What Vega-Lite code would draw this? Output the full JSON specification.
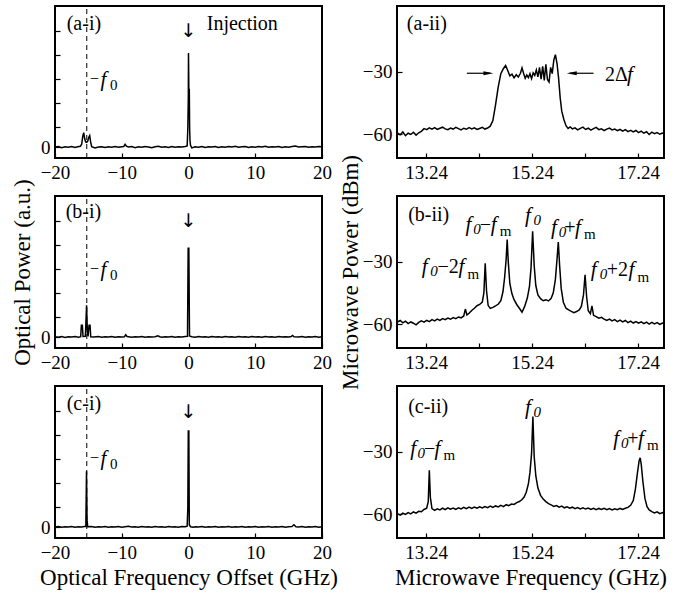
{
"$schema": "https://vega.github.io/schema/vega-lite/v6.json",
"padding": {"left": 10, "top": 4, "right": 5, "bottom": 5},
"bounds": "flush",
"columns": 2,
"spacing": {"row": 38, "column": 75},
"datasets": {
"ai": [{"x":-20,"y":0.01},{"x":-19.5,"y":0.03},{"x":-19,"y":-0.02},{"x":-18.5,"y":0.02},{"x":-18,"y":0.0},{"x":-17.5,"y":0.03},{"x":-17,"y":-0.01},{"x":-16.6,"y":0.02},{"x":-16.2,"y":0.04},{"x":-16.0,"y":0.12},{"x":-15.85,"y":0.45},{"x":-15.7,"y":0.6},{"x":-15.55,"y":0.35},{"x":-15.4,"y":0.22},{"x":-15.25,"y":0.2},{"x":-15.1,"y":0.25},{"x":-14.95,"y":0.4},{"x":-14.8,"y":0.48},{"x":-14.65,"y":0.2},{"x":-14.5,"y":0.02},{"x":-14,"y":-0.03},{"x":-13.5,"y":0.01},{"x":-13,"y":0.02},{"x":-12.5,"y":-0.01},{"x":-12,"y":0.02},{"x":-11.5,"y":0.0},{"x":-11,"y":0.03},{"x":-10.5,"y":0.0},{"x":-10,"y":0.02},{"x":-9.7,"y":0.03},{"x":-9.5,"y":0.12},{"x":-9.3,"y":0.04},{"x":-9,"y":0.01},{"x":-8.5,"y":0.03},{"x":-8,"y":-0.02},{"x":-7.5,"y":0.02},{"x":-7,"y":0.0},{"x":-6.5,"y":0.03},{"x":-6,"y":0.01},{"x":-5.5,"y":-0.02},{"x":-5,"y":0.02},{"x":-4.5,"y":0.04},{"x":-4,"y":0.0},{"x":-3.5,"y":0.02},{"x":-3,"y":-0.01},{"x":-2.5,"y":0.03},{"x":-2,"y":0.0},{"x":-1.5,"y":0.02},{"x":-1,"y":0.01},{"x":-0.5,"y":0.03},{"x":-0.2,"y":0.05},{"x":-0.1,"y":0.8},{"x":-0.03,"y":2.0},{"x":0,"y":3.92},{"x":0.05,"y":2.4},{"x":0.12,"y":2.4},{"x":0.17,"y":0.8},{"x":0.22,"y":0.3},{"x":0.3,"y":0.08},{"x":0.5,"y":-0.03},{"x":1,"y":0.02},{"x":1.5,"y":0.0},{"x":2,"y":0.03},{"x":2.5,"y":-0.01},{"x":3,"y":0.02},{"x":3.5,"y":0.01},{"x":4,"y":0.03},{"x":4.5,"y":-0.01},{"x":5,"y":0.02},{"x":5.5,"y":0.0},{"x":6,"y":0.03},{"x":6.5,"y":0.01},{"x":7,"y":0.04},{"x":7.5,"y":0.0},{"x":8,"y":0.02},{"x":8.5,"y":0.03},{"x":9,"y":-0.01},{"x":9.5,"y":0.02},{"x":10,"y":0.0},{"x":10.5,"y":0.03},{"x":11,"y":0.01},{"x":11.5,"y":0.04},{"x":12,"y":0.0},{"x":12.5,"y":0.02},{"x":13,"y":0.01},{"x":13.5,"y":0.03},{"x":14,"y":-0.01},{"x":14.5,"y":0.02},{"x":15,"y":0.0},{"x":15.5,"y":0.03},{"x":16,"y":0.05},{"x":16.5,"y":0.01},{"x":17,"y":0.02},{"x":17.5,"y":0.03},{"x":18,"y":0.0},{"x":18.5,"y":0.02},{"x":19,"y":0.01},{"x":19.5,"y":0.03},{"x":20,"y":0.02}],
"bi": [{"x":-20,"y":0.02},{"x":-19.5,"y":0.0},{"x":-19,"y":0.03},{"x":-18.5,"y":-0.01},{"x":-18,"y":0.02},{"x":-17.5,"y":0.01},{"x":-17,"y":0.03},{"x":-16.5,"y":0.0},{"x":-16.15,"y":0.02},{"x":-16.05,"y":0.5},{"x":-15.9,"y":0.5},{"x":-15.8,"y":0.03},{"x":-15.45,"y":0.04},{"x":-15.27,"y":1.33},{"x":-15.15,"y":0.2},{"x":-15.05,"y":0.03},{"x":-14.9,"y":0.5},{"x":-14.75,"y":0.5},{"x":-14.65,"y":0.02},{"x":-14.2,"y":0.01},{"x":-13.5,"y":0.03},{"x":-13,"y":0.0},{"x":-12.5,"y":0.02},{"x":-12,"y":0.01},{"x":-11.5,"y":0.03},{"x":-11,"y":0.0},{"x":-10.5,"y":0.02},{"x":-10,"y":0.01},{"x":-9.6,"y":0.02},{"x":-9.4,"y":0.1},{"x":-9.2,"y":0.03},{"x":-8.5,"y":0.0},{"x":-8,"y":0.02},{"x":-7.5,"y":0.01},{"x":-7,"y":0.03},{"x":-6.5,"y":0.0},{"x":-6,"y":0.02},{"x":-5.5,"y":0.01},{"x":-5,"y":0.02},{"x":-4.6,"y":0.06},{"x":-4.3,"y":0.02},{"x":-4,"y":0.0},{"x":-3.5,"y":0.02},{"x":-3,"y":0.01},{"x":-2.5,"y":0.03},{"x":-2,"y":0.0},{"x":-1.5,"y":0.02},{"x":-1,"y":0.01},{"x":-0.5,"y":0.03},{"x":-0.15,"y":0.04},{"x":-0.05,"y":3.7},{"x":0.05,"y":3.7},{"x":0.15,"y":0.05},{"x":0.5,"y":0.02},{"x":1,"y":0.0},{"x":1.5,"y":0.03},{"x":2,"y":0.01},{"x":2.5,"y":0.02},{"x":3,"y":0.0},{"x":3.5,"y":0.03},{"x":4,"y":0.01},{"x":4.5,"y":0.02},{"x":5,"y":0.0},{"x":5.5,"y":0.03},{"x":6,"y":0.01},{"x":6.5,"y":0.02},{"x":7,"y":0.0},{"x":7.5,"y":0.03},{"x":8,"y":0.01},{"x":8.5,"y":0.02},{"x":9,"y":0.0},{"x":9.5,"y":0.03},{"x":10,"y":0.01},{"x":10.5,"y":0.02},{"x":11,"y":0.0},{"x":11.5,"y":0.03},{"x":12,"y":0.01},{"x":12.5,"y":0.02},{"x":13,"y":0.0},{"x":13.5,"y":0.03},{"x":14,"y":0.01},{"x":14.5,"y":0.02},{"x":15,"y":0.01},{"x":15.4,"y":0.03},{"x":15.6,"y":0.07},{"x":15.8,"y":0.02},{"x":16.5,"y":0.01},{"x":17,"y":0.03},{"x":17.5,"y":0.0},{"x":18,"y":0.02},{"x":18.5,"y":0.01},{"x":19,"y":0.03},{"x":19.5,"y":0.0},{"x":20,"y":0.02}],
"ci": [{"x":-20,"y":0.01},{"x":-19.5,"y":0.03},{"x":-19,"y":0.0},{"x":-18.5,"y":0.02},{"x":-18,"y":0.01},{"x":-17.5,"y":0.03},{"x":-17,"y":0.0},{"x":-16.5,"y":0.02},{"x":-16,"y":0.01},{"x":-15.6,"y":0.03},{"x":-15.38,"y":0.03},{"x":-15.28,"y":2.33},{"x":-15.2,"y":0.3},{"x":-15.1,"y":0.02},{"x":-14.5,"y":0.03},{"x":-14,"y":0.0},{"x":-13.5,"y":0.02},{"x":-13,"y":0.01},{"x":-12.5,"y":0.03},{"x":-12,"y":0.0},{"x":-11.5,"y":0.02},{"x":-11,"y":0.01},{"x":-10.5,"y":0.03},{"x":-10,"y":0.0},{"x":-9.5,"y":0.02},{"x":-9,"y":0.04},{"x":-8.5,"y":0.01},{"x":-8,"y":0.02},{"x":-7.5,"y":0.0},{"x":-7,"y":0.03},{"x":-6.5,"y":0.01},{"x":-6,"y":0.02},{"x":-5.5,"y":0.0},{"x":-5,"y":0.03},{"x":-4.5,"y":0.01},{"x":-4,"y":0.02},{"x":-3.5,"y":0.0},{"x":-3,"y":0.03},{"x":-2.5,"y":0.01},{"x":-2,"y":0.02},{"x":-1.5,"y":0.0},{"x":-1,"y":0.03},{"x":-0.5,"y":0.02},{"x":-0.2,"y":0.04},{"x":-0.1,"y":0.8},{"x":-0.03,"y":4.0},{"x":0.05,"y":4.0},{"x":0.12,"y":0.1},{"x":0.3,"y":0.02},{"x":0.7,"y":0.0},{"x":1,"y":0.02},{"x":1.5,"y":0.01},{"x":2,"y":0.03},{"x":2.5,"y":0.0},{"x":3,"y":0.02},{"x":3.5,"y":0.01},{"x":4,"y":0.03},{"x":4.5,"y":0.0},{"x":5,"y":0.02},{"x":5.5,"y":0.01},{"x":6,"y":0.03},{"x":6.5,"y":0.0},{"x":7,"y":0.02},{"x":7.5,"y":0.01},{"x":8,"y":0.03},{"x":8.5,"y":0.0},{"x":9,"y":0.02},{"x":9.5,"y":0.01},{"x":10,"y":0.03},{"x":10.5,"y":0.0},{"x":11,"y":0.02},{"x":11.5,"y":0.01},{"x":12,"y":0.03},{"x":12.5,"y":0.0},{"x":13,"y":0.02},{"x":13.5,"y":0.01},{"x":14,"y":0.03},{"x":14.5,"y":0.0},{"x":15,"y":0.02},{"x":15.5,"y":0.03},{"x":15.8,"y":0.1},{"x":16.1,"y":0.02},{"x":16.5,"y":0.01},{"x":17,"y":0.03},{"x":17.5,"y":0.0},{"x":18,"y":0.02},{"x":18.5,"y":0.01},{"x":19,"y":0.03},{"x":19.5,"y":0.0},{"x":20,"y":0.02}],
"aii": [{"x":12.70,"y":-59.5},{"x":12.75,"y":-60.3},{"x":12.80,"y":-59.0},{"x":12.85,"y":-60.8},{"x":12.90,"y":-59.6},{"x":12.95,"y":-60.2},{"x":13.00,"y":-59.1},{"x":13.05,"y":-60.5},{"x":13.10,"y":-59.4},{"x":13.15,"y":-58.7},{"x":13.20,"y":-57.4},{"x":13.25,"y":-57.9},{"x":13.30,"y":-57.0},{"x":13.35,"y":-57.6},{"x":13.40,"y":-56.9},{"x":13.45,"y":-57.8},{"x":13.50,"y":-57.2},{"x":13.55,"y":-56.7},{"x":13.60,"y":-57.5},{"x":13.65,"y":-57.9},{"x":13.70,"y":-57.1},{"x":13.75,"y":-57.6},{"x":13.80,"y":-56.8},{"x":13.85,"y":-57.4},{"x":13.90,"y":-58.0},{"x":13.95,"y":-57.2},{"x":14.00,"y":-57.7},{"x":14.05,"y":-56.9},{"x":14.10,"y":-57.5},{"x":14.15,"y":-57.0},{"x":14.20,"y":-57.8},{"x":14.25,"y":-57.3},{"x":14.30,"y":-56.8},{"x":14.35,"y":-57.6},{"x":14.40,"y":-57.1},{"x":14.45,"y":-56.2},{"x":14.50,"y":-53.5},{"x":14.55,"y":-46.0},{"x":14.60,"y":-37.5},{"x":14.65,"y":-31.0},{"x":14.70,"y":-28.5},{"x":14.74,"y":-27.1},{"x":14.78,"y":-29.5},{"x":14.82,"y":-32.0},{"x":14.86,"y":-31.2},{"x":14.90,"y":-33.0},{"x":14.94,"y":-31.5},{"x":14.98,"y":-32.6},{"x":15.02,"y":-30.8},{"x":15.05,"y":-28.2},{"x":15.08,"y":-30.9},{"x":15.11,"y":-33.2},{"x":15.14,"y":-31.7},{"x":15.17,"y":-32.9},{"x":15.20,"y":-31.0},{"x":15.23,"y":-33.4},{"x":15.26,"y":-30.6},{"x":15.29,"y":-31.8},{"x":15.32,"y":-29.2},{"x":15.35,"y":-32.5},{"x":15.38,"y":-28.0},{"x":15.41,"y":-33.6},{"x":15.44,"y":-27.5},{"x":15.47,"y":-34.2},{"x":15.50,"y":-26.5},{"x":15.53,"y":-33.8},{"x":15.56,"y":-35.0},{"x":15.59,"y":-28.0},{"x":15.62,"y":-31.0},{"x":15.65,"y":-24.5},{"x":15.68,"y":-21.9},{"x":15.71,"y":-26.0},{"x":15.74,"y":-33.0},{"x":15.77,"y":-42.5},{"x":15.80,"y":-49.0},{"x":15.84,"y":-53.0},{"x":15.88,"y":-56.0},{"x":15.92,"y":-57.3},{"x":15.96,"y":-56.6},{"x":16.00,"y":-57.5},{"x":16.05,"y":-57.0},{"x":16.10,"y":-58.0},{"x":16.15,"y":-57.3},{"x":16.20,"y":-56.7},{"x":16.25,"y":-57.8},{"x":16.30,"y":-57.2},{"x":16.35,"y":-58.1},{"x":16.40,"y":-57.4},{"x":16.45,"y":-56.8},{"x":16.50,"y":-57.9},{"x":16.55,"y":-57.5},{"x":16.60,"y":-58.3},{"x":16.65,"y":-57.6},{"x":16.70,"y":-57.1},{"x":16.75,"y":-58.0},{"x":16.80,"y":-57.6},{"x":16.85,"y":-58.4},{"x":16.90,"y":-57.8},{"x":16.95,"y":-58.6},{"x":17.00,"y":-57.9},{"x":17.05,"y":-58.8},{"x":17.10,"y":-58.2},{"x":17.15,"y":-59.0},{"x":17.20,"y":-58.3},{"x":17.25,"y":-59.3},{"x":17.30,"y":-58.6},{"x":17.35,"y":-59.6},{"x":17.40,"y":-58.9},{"x":17.45,"y":-60.2},{"x":17.50,"y":-59.1},{"x":17.55,"y":-59.8},{"x":17.60,"y":-59.3},{"x":17.65,"y":-60.1},{"x":17.70,"y":-59.5},{"x":17.73,"y":-59.8}],
"bii": [{"x":12.70,"y":-59.0},{"x":12.75,"y":-58.3},{"x":12.80,"y":-59.4},{"x":12.85,"y":-58.6},{"x":12.90,"y":-59.8},{"x":12.95,"y":-59.0},{"x":13.00,"y":-59.6},{"x":13.05,"y":-60.4},{"x":13.10,"y":-59.2},{"x":13.15,"y":-58.5},{"x":13.20,"y":-59.1},{"x":13.25,"y":-58.2},{"x":13.30,"y":-58.8},{"x":13.35,"y":-57.9},{"x":13.40,"y":-58.5},{"x":13.45,"y":-57.6},{"x":13.50,"y":-58.2},{"x":13.55,"y":-57.4},{"x":13.60,"y":-57.9},{"x":13.65,"y":-57.1},{"x":13.70,"y":-57.7},{"x":13.75,"y":-56.9},{"x":13.80,"y":-57.4},{"x":13.85,"y":-56.6},{"x":13.90,"y":-57.0},{"x":13.95,"y":-56.1},{"x":13.98,"y":-52.8},{"x":14.01,"y":-55.6},{"x":14.05,"y":-54.8},{"x":14.10,"y":-53.5},{"x":14.15,"y":-52.4},{"x":14.20,"y":-51.2},{"x":14.25,"y":-50.6},{"x":14.30,"y":-49.5},{"x":14.33,"y":-45.0},{"x":14.355,"y":-30.8},{"x":14.38,"y":-44.0},{"x":14.41,"y":-51.0},{"x":14.45,"y":-52.5},{"x":14.50,"y":-52.0},{"x":14.55,"y":-51.3},{"x":14.60,"y":-50.5},{"x":14.65,"y":-48.8},{"x":14.69,"y":-44.5},{"x":14.72,"y":-38.0},{"x":14.75,"y":-29.0},{"x":14.77,"y":-19.4},{"x":14.79,"y":-30.0},{"x":14.82,"y":-40.5},{"x":14.86,"y":-45.5},{"x":14.90,"y":-48.3},{"x":14.95,"y":-50.6},{"x":15.00,"y":-52.4},{"x":15.05,"y":-54.3},{"x":15.10,"y":-51.5},{"x":15.15,"y":-47.5},{"x":15.19,"y":-42.0},{"x":15.22,"y":-33.0},{"x":15.25,"y":-15.4},{"x":15.28,"y":-32.0},{"x":15.31,"y":-41.5},{"x":15.35,"y":-46.0},{"x":15.40,"y":-47.8},{"x":15.45,"y":-48.8},{"x":15.50,"y":-48.3},{"x":15.55,"y":-48.9},{"x":15.60,"y":-47.6},{"x":15.64,"y":-45.0},{"x":15.68,"y":-38.5},{"x":15.71,"y":-29.0},{"x":15.735,"y":-20.6},{"x":15.76,"y":-32.0},{"x":15.79,"y":-43.0},{"x":15.83,"y":-49.5},{"x":15.88,"y":-52.4},{"x":15.93,"y":-53.2},{"x":15.98,"y":-53.9},{"x":16.03,"y":-54.5},{"x":16.08,"y":-54.0},{"x":16.13,"y":-53.2},{"x":16.17,"y":-51.5},{"x":16.21,"y":-46.0},{"x":16.24,"y":-36.3},{"x":16.27,"y":-47.0},{"x":16.30,"y":-53.6},{"x":16.34,"y":-55.0},{"x":16.37,"y":-51.3},{"x":16.40,"y":-55.8},{"x":16.45,"y":-56.4},{"x":16.50,"y":-57.2},{"x":16.55,"y":-56.8},{"x":16.60,"y":-57.6},{"x":16.65,"y":-58.3},{"x":16.70,"y":-57.6},{"x":16.75,"y":-58.5},{"x":16.80,"y":-57.9},{"x":16.85,"y":-58.8},{"x":16.90,"y":-58.1},{"x":16.95,"y":-59.0},{"x":17.00,"y":-58.3},{"x":17.05,"y":-59.3},{"x":17.10,"y":-58.6},{"x":17.15,"y":-59.5},{"x":17.20,"y":-58.8},{"x":17.25,"y":-59.6},{"x":17.30,"y":-58.9},{"x":17.35,"y":-59.8},{"x":17.40,"y":-59.1},{"x":17.45,"y":-60.0},{"x":17.50,"y":-59.2},{"x":17.55,"y":-59.9},{"x":17.60,"y":-59.3},{"x":17.65,"y":-60.2},{"x":17.70,"y":-59.5},{"x":17.73,"y":-59.8}],
"cii": [{"x":12.70,"y":-59.8},{"x":12.75,"y":-60.5},{"x":12.80,"y":-59.6},{"x":12.85,"y":-60.2},{"x":12.90,"y":-59.3},{"x":12.95,"y":-59.9},{"x":13.00,"y":-59.0},{"x":13.05,"y":-59.6},{"x":13.10,"y":-58.7},{"x":13.15,"y":-58.9},{"x":13.20,"y":-57.8},{"x":13.25,"y":-57.2},{"x":13.28,"y":-54.0},{"x":13.30,"y":-39.0},{"x":13.32,"y":-52.0},{"x":13.35,"y":-57.4},{"x":13.40,"y":-58.2},{"x":13.45,"y":-57.5},{"x":13.50,"y":-58.0},{"x":13.55,"y":-57.2},{"x":13.60,"y":-57.9},{"x":13.65,"y":-57.0},{"x":13.70,"y":-57.7},{"x":13.75,"y":-57.1},{"x":13.80,"y":-57.8},{"x":13.85,"y":-57.0},{"x":13.90,"y":-57.5},{"x":13.95,"y":-56.8},{"x":14.00,"y":-57.4},{"x":14.05,"y":-56.7},{"x":14.10,"y":-57.3},{"x":14.15,"y":-56.6},{"x":14.20,"y":-57.2},{"x":14.25,"y":-56.5},{"x":14.30,"y":-57.1},{"x":14.35,"y":-56.4},{"x":14.40,"y":-56.9},{"x":14.45,"y":-56.2},{"x":14.50,"y":-56.8},{"x":14.55,"y":-56.1},{"x":14.60,"y":-56.6},{"x":14.65,"y":-55.8},{"x":14.70,"y":-56.4},{"x":14.75,"y":-55.5},{"x":14.80,"y":-56.0},{"x":14.85,"y":-55.2},{"x":14.90,"y":-55.4},{"x":14.95,"y":-54.5},{"x":15.00,"y":-54.0},{"x":15.05,"y":-53.0},{"x":15.09,"y":-51.8},{"x":15.13,"y":-49.5},{"x":15.17,"y":-45.5},{"x":15.20,"y":-40.0},{"x":15.23,"y":-31.0},{"x":15.255,"y":-13.2},{"x":15.28,"y":-32.5},{"x":15.31,"y":-41.5},{"x":15.35,"y":-47.5},{"x":15.40,"y":-51.0},{"x":15.45,"y":-52.8},{"x":15.50,"y":-54.0},{"x":15.55,"y":-55.0},{"x":15.60,"y":-55.6},{"x":15.65,"y":-56.3},{"x":15.70,"y":-55.9},{"x":15.75,"y":-56.7},{"x":15.80,"y":-56.2},{"x":15.85,"y":-57.0},{"x":15.90,"y":-56.5},{"x":15.95,"y":-57.2},{"x":16.00,"y":-56.7},{"x":16.05,"y":-57.4},{"x":16.10,"y":-56.9},{"x":16.15,"y":-57.5},{"x":16.20,"y":-57.0},{"x":16.25,"y":-57.6},{"x":16.30,"y":-57.1},{"x":16.35,"y":-57.8},{"x":16.40,"y":-57.2},{"x":16.45,"y":-57.9},{"x":16.50,"y":-57.3},{"x":16.55,"y":-57.8},{"x":16.60,"y":-57.2},{"x":16.65,"y":-57.9},{"x":16.70,"y":-57.4},{"x":16.75,"y":-58.0},{"x":16.80,"y":-57.5},{"x":16.85,"y":-57.9},{"x":16.90,"y":-57.3},{"x":16.95,"y":-57.8},{"x":17.00,"y":-57.2},{"x":17.05,"y":-56.8},{"x":17.10,"y":-55.8},{"x":17.15,"y":-53.5},{"x":17.19,"y":-48.0},{"x":17.23,"y":-40.0},{"x":17.26,"y":-34.5},{"x":17.28,"y":-33.0},{"x":17.30,"y":-36.0},{"x":17.33,"y":-44.0},{"x":17.37,"y":-52.5},{"x":17.41,"y":-56.5},{"x":17.45,"y":-58.0},{"x":17.50,"y":-58.8},{"x":17.55,"y":-59.5},{"x":17.60,"y":-58.9},{"x":17.65,"y":-59.8},{"x":17.70,"y":-59.3},{"x":17.73,"y":-60.0}],
"dash": [{"x":-15.24,"y":-0.45,"y2":5.87}],
"tai": [{"k":"rm","x":-18.25,"y":4.86,"t":"(a-i)"},{"k":"rm","x":2.73,"y":4.86,"t":"Injection"},{"k":"arr","x":0,"y":4.83,"t":"↓"},{"k":"mn","x":-14.75,"y":2.62,"t":"−"},{"k":"it","x":-13.2,"y":2.54,"t":"f"},{"k":"sm","x":-11.76,"y":2.36,"t":"0"}],
"tbi": [{"k":"rm","x":-18.4,"y":4.95,"t":"(b-i)"},{"k":"arr","x":0,"y":4.83,"t":"↓"},{"k":"mn","x":-14.75,"y":2.62,"t":"−"},{"k":"it","x":-13.2,"y":2.54,"t":"f"},{"k":"sm","x":-11.76,"y":2.36,"t":"0"}],
"tci": [{"k":"rm","x":-18.25,"y":4.875,"t":"(c-i)"},{"k":"arr","x":0,"y":4.8,"t":"↓"},{"k":"mn","x":-14.75,"y":2.66,"t":"−"},{"k":"it","x":-13.2,"y":2.58,"t":"f"},{"k":"sm","x":-11.76,"y":2.4,"t":"0"}],
"taii": [{"k":"rm","x":12.876,"y":-10.2,"t":"(a-ii)"},{"k":"rm","x":16.617,"y":-34.5,"t":"2Δ"},{"k":"it","x":17.032,"y":-34.5,"t":"f"}],
"tbii": [{"k":"rm","x":12.9,"y":-10.5,"t":"(b-ii)"},
{"k":"it","x":13.159,"y":-35.7,"t":"f"},{"k":"si","x":13.316,"y":-37.1,"t":"0"},{"k":"rm","x":13.453,"y":-35.7,"t":"−2"},{"k":"it","x":13.85,"y":-35.7,"t":"f"},{"k":"sm","x":14.02,"y":-38.3,"t":"m"},
{"k":"it","x":13.982,"y":-15.2,"t":"f"},{"k":"si","x":14.131,"y":-16.6,"t":"0"},{"k":"rm","x":14.254,"y":-15.2,"t":"−"},{"k":"it","x":14.46,"y":-15.2,"t":"f"},{"k":"sm","x":14.63,"y":-17.8,"t":"m"},
{"k":"it","x":15.108,"y":-11.1,"t":"f"},{"k":"si","x":15.268,"y":-12.5,"t":"0"},
{"k":"it","x":15.598,"y":-16.7,"t":"f"},{"k":"si","x":15.743,"y":-18.1,"t":"0"},{"k":"rm","x":15.849,"y":-16.7,"t":"+"},{"k":"it","x":16.05,"y":-16.7,"t":"f"},{"k":"sm","x":16.22,"y":-19.3,"t":"m"},
{"k":"it","x":16.348,"y":-37.1,"t":"f"},{"k":"si","x":16.518,"y":-38.6,"t":"0"},{"k":"rm","x":16.65,"y":-37.1,"t":"+2"},{"k":"it","x":17.06,"y":-37.1,"t":"f"},{"k":"sm","x":17.23,"y":-39.7,"t":"m"}],
"tcii": [{"k":"rm","x":12.9,"y":-11.4,"t":"(c-ii)"},
{"k":"it","x":12.938,"y":-31.4,"t":"f"},{"k":"si","x":13.076,"y":-32.9,"t":"0"},{"k":"rm","x":13.202,"y":-31.4,"t":"−"},{"k":"it","x":13.40,"y":-31.4,"t":"f"},{"k":"sm","x":13.57,"y":-34.0,"t":"m"},
{"k":"it","x":15.108,"y":-11.9,"t":"f"},{"k":"si","x":15.268,"y":-13.3,"t":"0"},
{"k":"it","x":16.774,"y":-26.7,"t":"f"},{"k":"si","x":16.919,"y":-28.1,"t":"0"},{"k":"rm","x":17.038,"y":-26.7,"t":"+"},{"k":"it","x":17.24,"y":-26.7,"t":"f"},{"k":"sm","x":17.41,"y":-29.3,"t":"m"}]
},
"concat": [
{"width": 267, "height": 152,
 "encoding": {"x":{"field":"x","type":"quantitative","scale":{"domain":[-20,20],"nice":false,"zero":false},"axis":{"values":[-20,-10,0,10,20],"title":null}},"y":{"field":"y","type":"quantitative","scale":{"domain":[-0.45,5.87],"nice":false,"zero":false},"axis":{"values":[0,0.85,1.85,2.85,3.85,4.85],"labelExpr":"datum.value == 0 ? '0' : ''","title":null}}},
 "layer": [
 {"data":{"name":"dash"},"mark":{"type":"rule","strokeDash":[5,4],"strokeWidth":1,"color":"black"},"encoding":{"y2":{"field":"y2"}}},
 {"data":{"name":"ai"},"mark":{"type":"line","color":"black","strokeWidth":1.5,"clip":true}},
 {"data":{"name":"tai"},"transform":[{"filter":"datum.k == 'rm'"}],"mark":{"type":"text","align":"left","baseline":"alphabetic","fontSize":20},"encoding":{"text":{"field":"t","type":"nominal"}}},
 {"data":{"name":"tai"},"transform":[{"filter":"datum.k == 'mn'"}],"mark":{"type":"text","align":"left","baseline":"alphabetic","fontSize":16},"encoding":{"text":{"field":"t","type":"nominal"}}},
 {"data":{"name":"tai"},"transform":[{"filter":"datum.k == 'it'"}],"mark":{"type":"text","align":"left","baseline":"alphabetic","fontSize":21,"fontStyle":"italic"},"encoding":{"text":{"field":"t","type":"nominal"}}},
 {"data":{"name":"tai"},"transform":[{"filter":"datum.k == 'sm'"}],"mark":{"type":"text","align":"left","baseline":"alphabetic","fontSize":15},"encoding":{"text":{"field":"t","type":"nominal"}}},
 {"data":{"name":"tai"},"transform":[{"filter":"datum.k == 'arr'"}],"mark":{"type":"text","align":"center","baseline":"middle","fontSize":19,"font":"DejaVu Sans"},"encoding":{"text":{"field":"t","type":"nominal"}}}
]},
{"width": 267, "height": 152,
 "encoding": {"x":{"field":"x","type":"quantitative","scale":{"domain":[12.69,17.73],"nice":false,"zero":false},"axis":{"values":[13.24,14.24,15.24,16.24,17.24],"labelExpr":"(datum.value > 14 && datum.value < 14.5) || (datum.value > 16 && datum.value < 16.5) ? '' : format(datum.value, '.2f')","title":null}},"y":{"field":"y","type":"quantitative","scale":{"domain":[-71.5,1.5],"nice":false,"zero":false},"axis":{"values":[-30,-60],"title":null}}},
 "layer": [
 {"data":{"name":"aii"},"mark":{"type":"line","color":"black","strokeWidth":1.5,"clip":true}},
 {"data":{"values":[{"x":14.008,"x2":14.45,"y":-30.8},{"x":16.40,"x2":15.95,"y":-30.8}]},"mark":{"type":"rule","color":"black","strokeWidth":1.2},"encoding":{"x2":{"field":"x2"}}},
 {"data":{"values":[{"x":14.416,"y":-30.8,"d":"r"},{"x":15.989,"y":-30.8,"d":"l"}]},"mark":{"type":"point","filled":true,"color":"black","size":100,"opacity":1},"encoding":{"shape":{"field":"d","type":"nominal","scale":{"domain":["r","l"],"range":["M1,0L-1,-0.42L-1,0.42Z","M-1,0L1,-0.42L1,0.42Z"]},"legend":null}}},
 {"data":{"name":"taii"},"transform":[{"filter":"datum.k == 'rm'"}],"mark":{"type":"text","align":"left","baseline":"alphabetic","fontSize":20},"encoding":{"text":{"field":"t","type":"nominal"}}},
 {"data":{"name":"taii"},"transform":[{"filter":"datum.k == 'it'"}],"mark":{"type":"text","align":"left","baseline":"alphabetic","fontSize":21,"fontStyle":"italic"},"encoding":{"text":{"field":"t","type":"nominal"}}}
]},
{"width": 267, "height": 152,
 "encoding": {"x":{"field":"x","type":"quantitative","scale":{"domain":[-20,20],"nice":false,"zero":false},"axis":{"values":[-20,-10,0,10,20],"title":null}},"y":{"field":"y","type":"quantitative","scale":{"domain":[-0.45,5.87],"nice":false,"zero":false},"axis":{"values":[0,0.85,1.85,2.85,3.85,4.85],"labelExpr":"datum.value == 0 ? '0' : ''","title":"Optical Power (a.u.)","titlePadding":6}}},
 "layer": [
 {"data":{"name":"dash"},"mark":{"type":"rule","strokeDash":[5,4],"strokeWidth":1,"color":"black"},"encoding":{"y2":{"field":"y2"}}},
 {"data":{"name":"bi"},"mark":{"type":"line","color":"black","strokeWidth":1.5,"clip":true}},
 {"data":{"name":"tbi"},"transform":[{"filter":"datum.k == 'rm'"}],"mark":{"type":"text","align":"left","baseline":"alphabetic","fontSize":20},"encoding":{"text":{"field":"t","type":"nominal"}}},
 {"data":{"name":"tbi"},"transform":[{"filter":"datum.k == 'mn'"}],"mark":{"type":"text","align":"left","baseline":"alphabetic","fontSize":16},"encoding":{"text":{"field":"t","type":"nominal"}}},
 {"data":{"name":"tbi"},"transform":[{"filter":"datum.k == 'it'"}],"mark":{"type":"text","align":"left","baseline":"alphabetic","fontSize":21,"fontStyle":"italic"},"encoding":{"text":{"field":"t","type":"nominal"}}},
 {"data":{"name":"tbi"},"transform":[{"filter":"datum.k == 'sm'"}],"mark":{"type":"text","align":"left","baseline":"alphabetic","fontSize":15},"encoding":{"text":{"field":"t","type":"nominal"}}},
 {"data":{"name":"tbi"},"transform":[{"filter":"datum.k == 'arr'"}],"mark":{"type":"text","align":"center","baseline":"middle","fontSize":19,"font":"DejaVu Sans"},"encoding":{"text":{"field":"t","type":"nominal"}}}
]},
{"width": 267, "height": 152,
 "encoding": {"x":{"field":"x","type":"quantitative","scale":{"domain":[12.69,17.73],"nice":false,"zero":false},"axis":{"values":[13.24,14.24,15.24,16.24,17.24],"labelExpr":"(datum.value > 14 && datum.value < 14.5) || (datum.value > 16 && datum.value < 16.5) ? '' : format(datum.value, '.2f')","title":null}},"y":{"field":"y","type":"quantitative","scale":{"domain":[-71.5,1.5],"nice":false,"zero":false},"axis":{"values":[-30,-60],"title":"Microwave Power (dBm)","titlePadding":0}}},
 "layer": [
 {"data":{"name":"bii"},"mark":{"type":"line","color":"black","strokeWidth":1.5,"clip":true}},
 {"data":{"name":"tbii"},"transform":[{"filter":"datum.k == 'rm'"}],"mark":{"type":"text","align":"left","baseline":"alphabetic","fontSize":20},"encoding":{"text":{"field":"t","type":"nominal"}}},
 {"data":{"name":"tbii"},"transform":[{"filter":"datum.k == 'it'"}],"mark":{"type":"text","align":"left","baseline":"alphabetic","fontSize":21,"fontStyle":"italic"},"encoding":{"text":{"field":"t","type":"nominal"}}},
 {"data":{"name":"tbii"},"transform":[{"filter":"datum.k == 'si'"}],"mark":{"type":"text","align":"left","baseline":"alphabetic","fontSize":15,"fontStyle":"italic"},"encoding":{"text":{"field":"t","type":"nominal"}}},
 {"data":{"name":"tbii"},"transform":[{"filter":"datum.k == 'sm'"}],"mark":{"type":"text","align":"left","baseline":"alphabetic","fontSize":15},"encoding":{"text":{"field":"t","type":"nominal"}}}
]},
{"width": 267, "height": 152,
 "encoding": {"x":{"field":"x","type":"quantitative","scale":{"domain":[-20,20],"nice":false,"zero":false},"axis":{"values":[-20,-10,0,10,20],"title":"Optical Frequency Offset (GHz)"}},"y":{"field":"y","type":"quantitative","scale":{"domain":[-0.45,5.87],"nice":false,"zero":false},"axis":{"values":[0,0.85,1.85,2.85,3.85,4.85],"labelExpr":"datum.value == 0 ? '0' : ''","title":null}}},
 "layer": [
 {"data":{"name":"dash"},"mark":{"type":"rule","strokeDash":[5,4],"strokeWidth":1,"color":"black"},"encoding":{"y2":{"field":"y2"}}},
 {"data":{"name":"ci"},"mark":{"type":"line","color":"black","strokeWidth":1.5,"clip":true}},
 {"data":{"name":"tci"},"transform":[{"filter":"datum.k == 'rm'"}],"mark":{"type":"text","align":"left","baseline":"alphabetic","fontSize":20},"encoding":{"text":{"field":"t","type":"nominal"}}},
 {"data":{"name":"tci"},"transform":[{"filter":"datum.k == 'mn'"}],"mark":{"type":"text","align":"left","baseline":"alphabetic","fontSize":16},"encoding":{"text":{"field":"t","type":"nominal"}}},
 {"data":{"name":"tci"},"transform":[{"filter":"datum.k == 'it'"}],"mark":{"type":"text","align":"left","baseline":"alphabetic","fontSize":21,"fontStyle":"italic"},"encoding":{"text":{"field":"t","type":"nominal"}}},
 {"data":{"name":"tci"},"transform":[{"filter":"datum.k == 'sm'"}],"mark":{"type":"text","align":"left","baseline":"alphabetic","fontSize":15},"encoding":{"text":{"field":"t","type":"nominal"}}},
 {"data":{"name":"tci"},"transform":[{"filter":"datum.k == 'arr'"}],"mark":{"type":"text","align":"center","baseline":"middle","fontSize":19,"font":"DejaVu Sans"},"encoding":{"text":{"field":"t","type":"nominal"}}}
]},
{"width": 267, "height": 152,
 "encoding": {"x":{"field":"x","type":"quantitative","scale":{"domain":[12.69,17.73],"nice":false,"zero":false},"axis":{"values":[13.24,14.24,15.24,16.24,17.24],"labelExpr":"(datum.value > 14 && datum.value < 14.5) || (datum.value > 16 && datum.value < 16.5) ? '' : format(datum.value, '.2f')","title":"Microwave Frequency (GHz)"}},"y":{"field":"y","type":"quantitative","scale":{"domain":[-71.5,1.5],"nice":false,"zero":false},"axis":{"values":[-30,-60],"title":null}}},
 "layer": [
 {"data":{"name":"cii"},"mark":{"type":"line","color":"black","strokeWidth":1.5,"clip":true}},
 {"data":{"name":"tcii"},"transform":[{"filter":"datum.k == 'rm'"}],"mark":{"type":"text","align":"left","baseline":"alphabetic","fontSize":20},"encoding":{"text":{"field":"t","type":"nominal"}}},
 {"data":{"name":"tcii"},"transform":[{"filter":"datum.k == 'it'"}],"mark":{"type":"text","align":"left","baseline":"alphabetic","fontSize":21,"fontStyle":"italic"},"encoding":{"text":{"field":"t","type":"nominal"}}},
 {"data":{"name":"tcii"},"transform":[{"filter":"datum.k == 'si'"}],"mark":{"type":"text","align":"left","baseline":"alphabetic","fontSize":15,"fontStyle":"italic"},"encoding":{"text":{"field":"t","type":"nominal"}}},
 {"data":{"name":"tcii"},"transform":[{"filter":"datum.k == 'sm'"}],"mark":{"type":"text","align":"left","baseline":"alphabetic","fontSize":15},"encoding":{"text":{"field":"t","type":"nominal"}}}
]}
],
"config": {
 "font": "Liberation Serif",
 "background": "white",
 "view": {"stroke": "black", "strokeWidth": 2},
 "text": {"font": "Liberation Serif", "color": "black"},
 "axis": {"domain": false, "grid": false, "ticks": true, "tickColor": "black", "tickWidth": 1.2, "tickSize": -5, "labelPadding": 10, "labelFont": "Liberation Serif", "labelFontSize": 19, "labelColor": "black", "labelFlush": false, "labelOverlap": false, "titleFont": "Liberation Serif", "titleFontSize": 23, "titleFontWeight": "normal", "titleColor": "black"}
}
}
